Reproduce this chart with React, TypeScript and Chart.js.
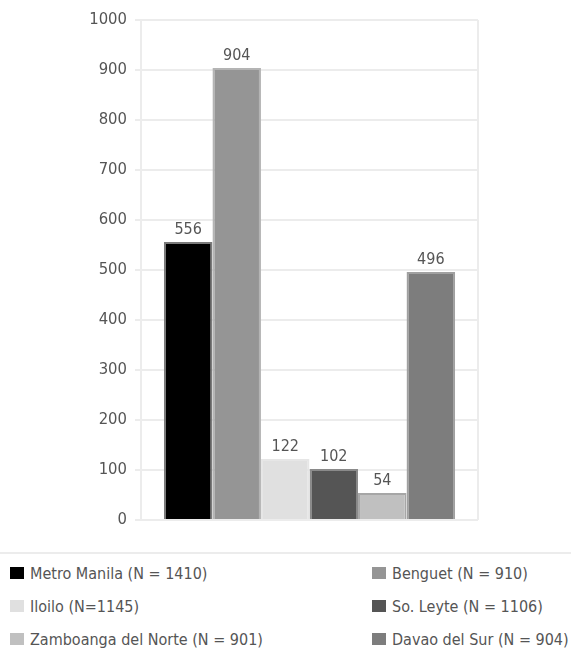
import React, { useEffect, useRef } from "react";
import { Chart, registerables } from "chart.js";

Chart.register(...registerables);

const categories = [""];
const seriesNames = [
  "Metro Manila (N = 1410)",
  "Benguet (N = 910)",
  "Iloilo (N=1145)",
  "So. Leyte (N = 1106)",
  "Zamboanga del Norte (N = 901)",
  "Davao del Sur (N = 904)",
];
const seriesValues = [556, 904, 122, 102, 54, 496];
const seriesColors = ["#000000", "#959595", "#e0e0e0", "#555555", "#c0c0c0", "#7d7d7d"];
const seriesBorders = ["#7a7a7a", "#b4b4b4", "#e6e6e6", "#8a8a8a", "#a6a6a6", "#a0a0a0"];
const yMin = 0;
const yMax = 1000;
const yStep = 100;

const FONT = "'DejaVu Sans Condensed', 'DejaVu Sans', sans-serif";
const W = 571;
const CH = 548;

const valueLabels = {
  id: "valueLabels",
  afterDatasetsDraw(chart: any) {
    const ctx = chart.ctx;
    ctx.save();
    ctx.font = `16px ${FONT}`;
    ctx.fillStyle = "#555555";
    ctx.textAlign = "center";
    ctx.textBaseline = "bottom";
    chart.data.datasets.forEach((ds: any, i: number) => {
      const meta = chart.getDatasetMeta(i);
      meta.data.forEach((el: any, j: number) => {
        ctx.fillText(String(ds.data[j]), el.x, el.y - 4);
      });
    });
    ctx.restore();
  },
};

export default function App() {
  const ref = useRef<HTMLCanvasElement | null>(null);

  useEffect(() => {
    if (!ref.current) return;
    const chart = new Chart(ref.current, {
      type: "bar",
      data: {
        labels: categories,
        datasets: seriesNames.map((name, i) => ({
          label: name,
          data: [seriesValues[i]],
          backgroundColor: seriesColors[i],
          borderColor: seriesBorders[i],
          borderWidth: 2,
          categoryPercentage: 0.864,
          barPercentage: 1,
        })),
      },
      options: {
        responsive: false,
        animation: false,
        devicePixelRatio: 1,
        layout: { padding: { left: 0, right: W - 478, top: 20, bottom: CH - 520 } },
        plugins: { legend: { display: false }, tooltip: { enabled: false } },
        scales: {
          x: {
            ticks: { display: false },
            grid: { color: "#ececec", lineWidth: 2, drawTicks: false },
            border: { display: false },
            afterFit: (s: any) => {
              s.height = 0;
            },
          },
          y: {
            min: yMin,
            max: yMax,
            ticks: {
              stepSize: yStep,
              color: "#555555",
              font: { family: FONT, size: 16.5 },
              padding: 8,
              callback: (v: any) => String(v),
            },
            grid: { color: "#ececec", lineWidth: 2, tickLength: 6 },
            border: { color: "#ececec", width: 2 },
            afterFit: (s: any) => {
              s.width = 141;
            },
          },
        },
      },
      plugins: [valueLabels],
    });
    return () => chart.destroy();
  }, []);

  const rowTop = [563, 596, 629];

  return (
    <div
      style={{
        position: "absolute",
        left: 0,
        top: 0,
        width: W,
        height: 650,
        background: "#ffffff",
        overflow: "hidden",
      }}
    >
      <canvas ref={ref} width={W} height={CH} style={{ display: "block", width: W, height: CH }} />
      <div
        style={{
          position: "absolute",
          left: 0,
          top: 552,
          width: W,
          height: 2,
          background: "#ececec",
        }}
      />
      {seriesNames.map((name, i) => {
        const col = i % 2;
        const row = Math.floor(i / 2);
        const bx = col === 0 ? 10 : 372;
        return (
          <div
            key={name}
            style={{
              position: "absolute",
              left: bx,
              top: rowTop[row],
              height: 20,
              display: "flex",
              alignItems: "center",
              whiteSpace: "nowrap",
              fontFamily: FONT,
              fontSize: 16,
              color: "#555555",
            }}
          >
            <span
              style={{
                display: "inline-block",
                width: 14,
                height: 12,
                background: seriesColors[i],
                marginRight: 6,
              }}
            />
            <span>{name}</span>
          </div>
        );
      })}
    </div>
  );
}
